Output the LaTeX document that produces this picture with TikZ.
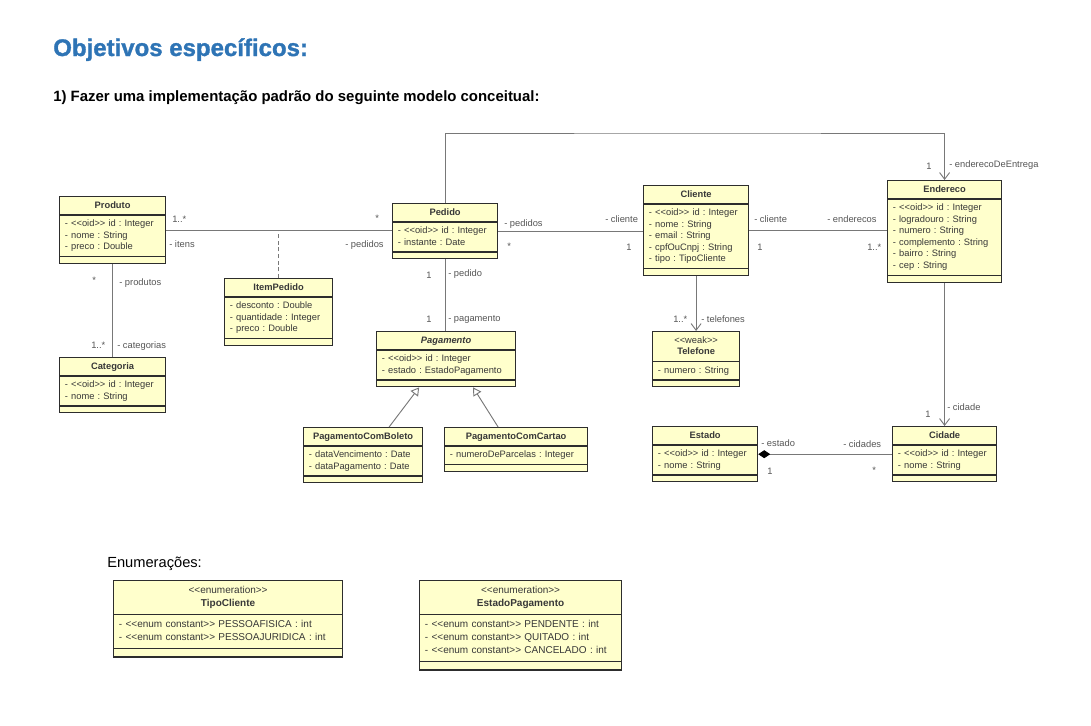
\documentclass[tikz,border=0pt]{standalone}
\usepackage{fontspec}
\setmainfont{Liberation Sans}[Ligatures=TeXOff]
\newfontfamily\headfont{Liberation Sans}[BoldFeatures={FakeBold=1.3}]
\usetikzlibrary{shapes.multipart, positioning, arrows.meta, calc}
\usepackage{xcolor}
\definecolor{umlfill}{RGB}{255,255,204}
\definecolor{umlline}{RGB}{45,45,45}
\definecolor{headblue}{RGB}{46,116,181}
\definecolor{assocgray}{RGB}{120,120,120}
\definecolor{lblgray}{RGB}{85,85,85}
\newcommand{\stt}[1]{<<#1>>}
\newcommand{\ctitle}[1]{{\centering\strut\textbf{#1}\par}}
\newcommand{\attrs}[1]{\strut#1\strut}

\begin{document}
\frenchspacing
\begin{tikzpicture}[x=0.75pt, y=-0.75pt,
  umlclass/.style={
    draw=umlline, line width=0.9pt, fill=umlfill,
    rectangle split, rectangle split parts=3,
    rectangle split empty part height=2pt, rectangle split empty part depth=0pt,
    text width=#1, align=left, inner xsep=4pt, inner ysep=2.1pt,
    font=\fontsize{7}{8.7}\selectfont, text=black!78, anchor=north west},
  enumclass/.style={umlclass=#1, font=\fontsize{7.5}{9.75}\selectfont, inner ysep=2.6pt},
  heading/.style={anchor=base west, inner sep=0pt},
  assoc/.style={draw=assocgray, line width=0.7pt},
  nav/.style={assoc, -{Straight Barb[length=5pt, width=7.5pt]}},
  gen/.style={assoc, -{Triangle[open, fill=white, length=6pt, width=7pt]}},
  comp/.style={assoc, {Diamond[length=9pt, width=6pt, black]}-},
  dep/.style={assoc, dash pattern=on 3pt off 2pt},
  lbl/.style={font=\fontsize{7}{8.7}\selectfont, text=lblgray, inner sep=0pt, anchor=base west}]

\useasboundingbox (0,0) rectangle (1091,725);

% --- headings ---
\node[heading, text=headblue, font=\headfont\bfseries\fontsize{18}{21}\selectfont] (titulo) at (53,56) {Objetivos específicos:};
\node[heading, font=\bfseries\fontsize{11.2}{13}\selectfont] (subtitulo) at (53,101) {1) Fazer uma implementação padrão do seguinte modelo conceitual:};

% --- classes ---
\node[umlclass=71.5pt] (produto) at (59,196)
  {\ctitle{Produto}\nodepart{second}\attrs{- \stt{oid} id : Integer\\- nome : String\\- preco : Double}\nodepart{third}};
\node[umlclass=71.5pt] (categoria) at (59,357)
  {\ctitle{Categoria}\nodepart{second}\attrs{- \stt{oid} id : Integer\\- nome : String}\nodepart{third}};
\node[umlclass=73pt] (itempedido) at (224,278)
  {\ctitle{ItemPedido}\nodepart{second}\attrs{- desconto : Double\\- quantidade : Integer\\- preco : Double}\nodepart{third}};
\node[umlclass=70.75pt] (pedido) at (392,203)
  {\ctitle{Pedido}\nodepart{second}\attrs{- \stt{oid} id : Integer\\- instante : Date}\nodepart{third}};
\node[umlclass=96.25pt] (pagamento) at (376,331)
  {\ctitle{\textit{Pagamento}}\nodepart{second}\attrs{- \stt{oid} id : Integer\\- estado : EstadoPagamento}\nodepart{third}};
\node[umlclass=81.25pt] (boleto) at (303,427)
  {\ctitle{PagamentoComBoleto}\nodepart{second}\attrs{- dataVencimento : Date\\- dataPagamento : Date}\nodepart{third}};
\node[umlclass=99.25pt] (cartao) at (444,427)
  {\ctitle{PagamentoComCartao}\nodepart{second}\attrs{- numeroDeParcelas : Integer}\nodepart{third}};
\node[umlclass=70.75pt] (cliente) at (643,185)
  {\ctitle{Cliente}\nodepart{second}\attrs{- \stt{oid} id : Integer\\- nome : String\\- email : String\\- cpfOuCnpj : String\\- tipo : TipoCliente}\nodepart{third}};
\node[umlclass=77.5pt] (endereco) at (887,180)
  {\ctitle{Endereco}\nodepart{second}\attrs{- \stt{oid} id : Integer\\- logradouro : String\\- numero : String\\- complemento : String\\- bairro : String\\- cep : String}\nodepart{third}};
\node[umlclass=57.25pt] (telefone) at (652,331)
  {{\centering\strut\stt{weak}\\\textbf{Telefone}\strut\par}\nodepart{second}\attrs{- numero : String}\nodepart{third}};
\node[umlclass=70.75pt] (estado) at (652,426)
  {\ctitle{Estado}\nodepart{second}\attrs{- \stt{oid} id : Integer\\- nome : String}\nodepart{third}};
\node[umlclass=70pt] (cidade) at (892,426)
  {\ctitle{Cidade}\nodepart{second}\attrs{- \stt{oid} id : Integer\\- nome : String}\nodepart{third}};

% --- associations ---
\draw[assoc] (produto.east) -- (produto.east -| pedido.west);
\coordinate (itemjoin) at (itempedido.north |- produto.east);
\draw[dep] (itempedido.north) -- (itemjoin);
\draw[assoc] (produto.south) -- (produto.south |- categoria.north);
\draw[assoc] (pedido.east) -- (pedido.east -| cliente.west);
\draw[assoc] (cliente.east) -- (cliente.east -| endereco.west);
\draw[assoc] (pedido.south) -- (pedido.south |- pagamento.north);
\coordinate (entrega) at (700,133);
\draw[nav] (pedido.north) |- (entrega) -| (endereco.north);
\draw[nav] (cliente.south) -- (cliente.south |- telefone.north);
\draw[nav] (endereco.south) -- (endereco.south |- cidade.north);
\draw[comp] (estado.east) -- (estado.east -| cidade.west);
\draw[gen] ($(boleto.north)+(26,0)$) -- ($(pagamento.south)+(-27,0)$);
\draw[gen] ($(cartao.north)+(-18,0)$) -- ($(pagamento.south)+(27,0)$);

% --- roles and multiplicities ---
\node[lbl] (mItens) at (172,222) {1..*};
\node[lbl] (rItens) at (169,247) {- itens};
\node[lbl] (mPedidosA) at (375,221) {*};
\node[lbl] (rPedidosA) at (345,247) {- pedidos};
\node[lbl] (mProdutos) at (92,283) {*};
\node[lbl] (rProdutos) at (119,285) {- produtos};
\node[lbl] (mCategorias) at (91,348) {1..*};
\node[lbl] (rCategorias) at (117,348) {- categorias};
\node[lbl] (rPedidosB) at (504,226) {- pedidos};
\node[lbl] (mPedidosB) at (507,249) {*};
\node[lbl] (rClienteA) at (605,222) {- cliente};
\node[lbl] (mClienteA) at (626,250) {1};
\node[lbl] (rClienteB) at (754,222) {- cliente};
\node[lbl] (mClienteB) at (757,250) {1};
\node[lbl] (rEnderecos) at (827,222) {- enderecos};
\node[lbl] (mEnderecos) at (867,250) {1..*};
\node[lbl] (mEntrega) at (926,169) {1};
\node[lbl] (rEntrega) at (949,167) {- enderecoDeEntrega};
\node[lbl] (mTelefones) at (673,322) {1..*};
\node[lbl] (rTelefones) at (701,322) {- telefones};
\node[lbl] (mCidade) at (925,417) {1};
\node[lbl] (rCidade) at (947,410) {- cidade};
\node[lbl] (rEstado) at (761,446) {- estado};
\node[lbl] (mEstado) at (767,474) {1};
\node[lbl] (rCidades) at (843,447) {- cidades};
\node[lbl] (mCidades) at (872,473) {*};
\node[lbl] (mPedido) at (426,278) {1};
\node[lbl] (rPedido) at (448,276) {- pedido};
\node[lbl] (mPagamento) at (426,322) {1};
\node[lbl] (rPagamento) at (448,321) {- pagamento};

% --- enumerations ---
\node[heading, font=\fontsize{11}{13}\selectfont] (enumtitulo) at (107,567) {Enumerações:};
\node[enumclass=163.75pt] (tipocliente) at (113,580)
  {{\centering\strut\stt{enumeration}\\\textbf{TipoCliente}\strut\par}\nodepart{second}\attrs{- \stt{enum constant} PESSOAFISICA : int\\- \stt{enum constant} PESSOAJURIDICA : int}\nodepart{third}};
\node[enumclass=143.5pt] (estadopag) at (419,580)
  {{\centering\strut\stt{enumeration}\\\textbf{EstadoPagamento}\strut\par}\nodepart{second}\attrs{- \stt{enum constant} PENDENTE : int\\- \stt{enum constant} QUITADO : int\\- \stt{enum constant} CANCELADO : int}\nodepart{third}};
\end{tikzpicture}
\end{document}
